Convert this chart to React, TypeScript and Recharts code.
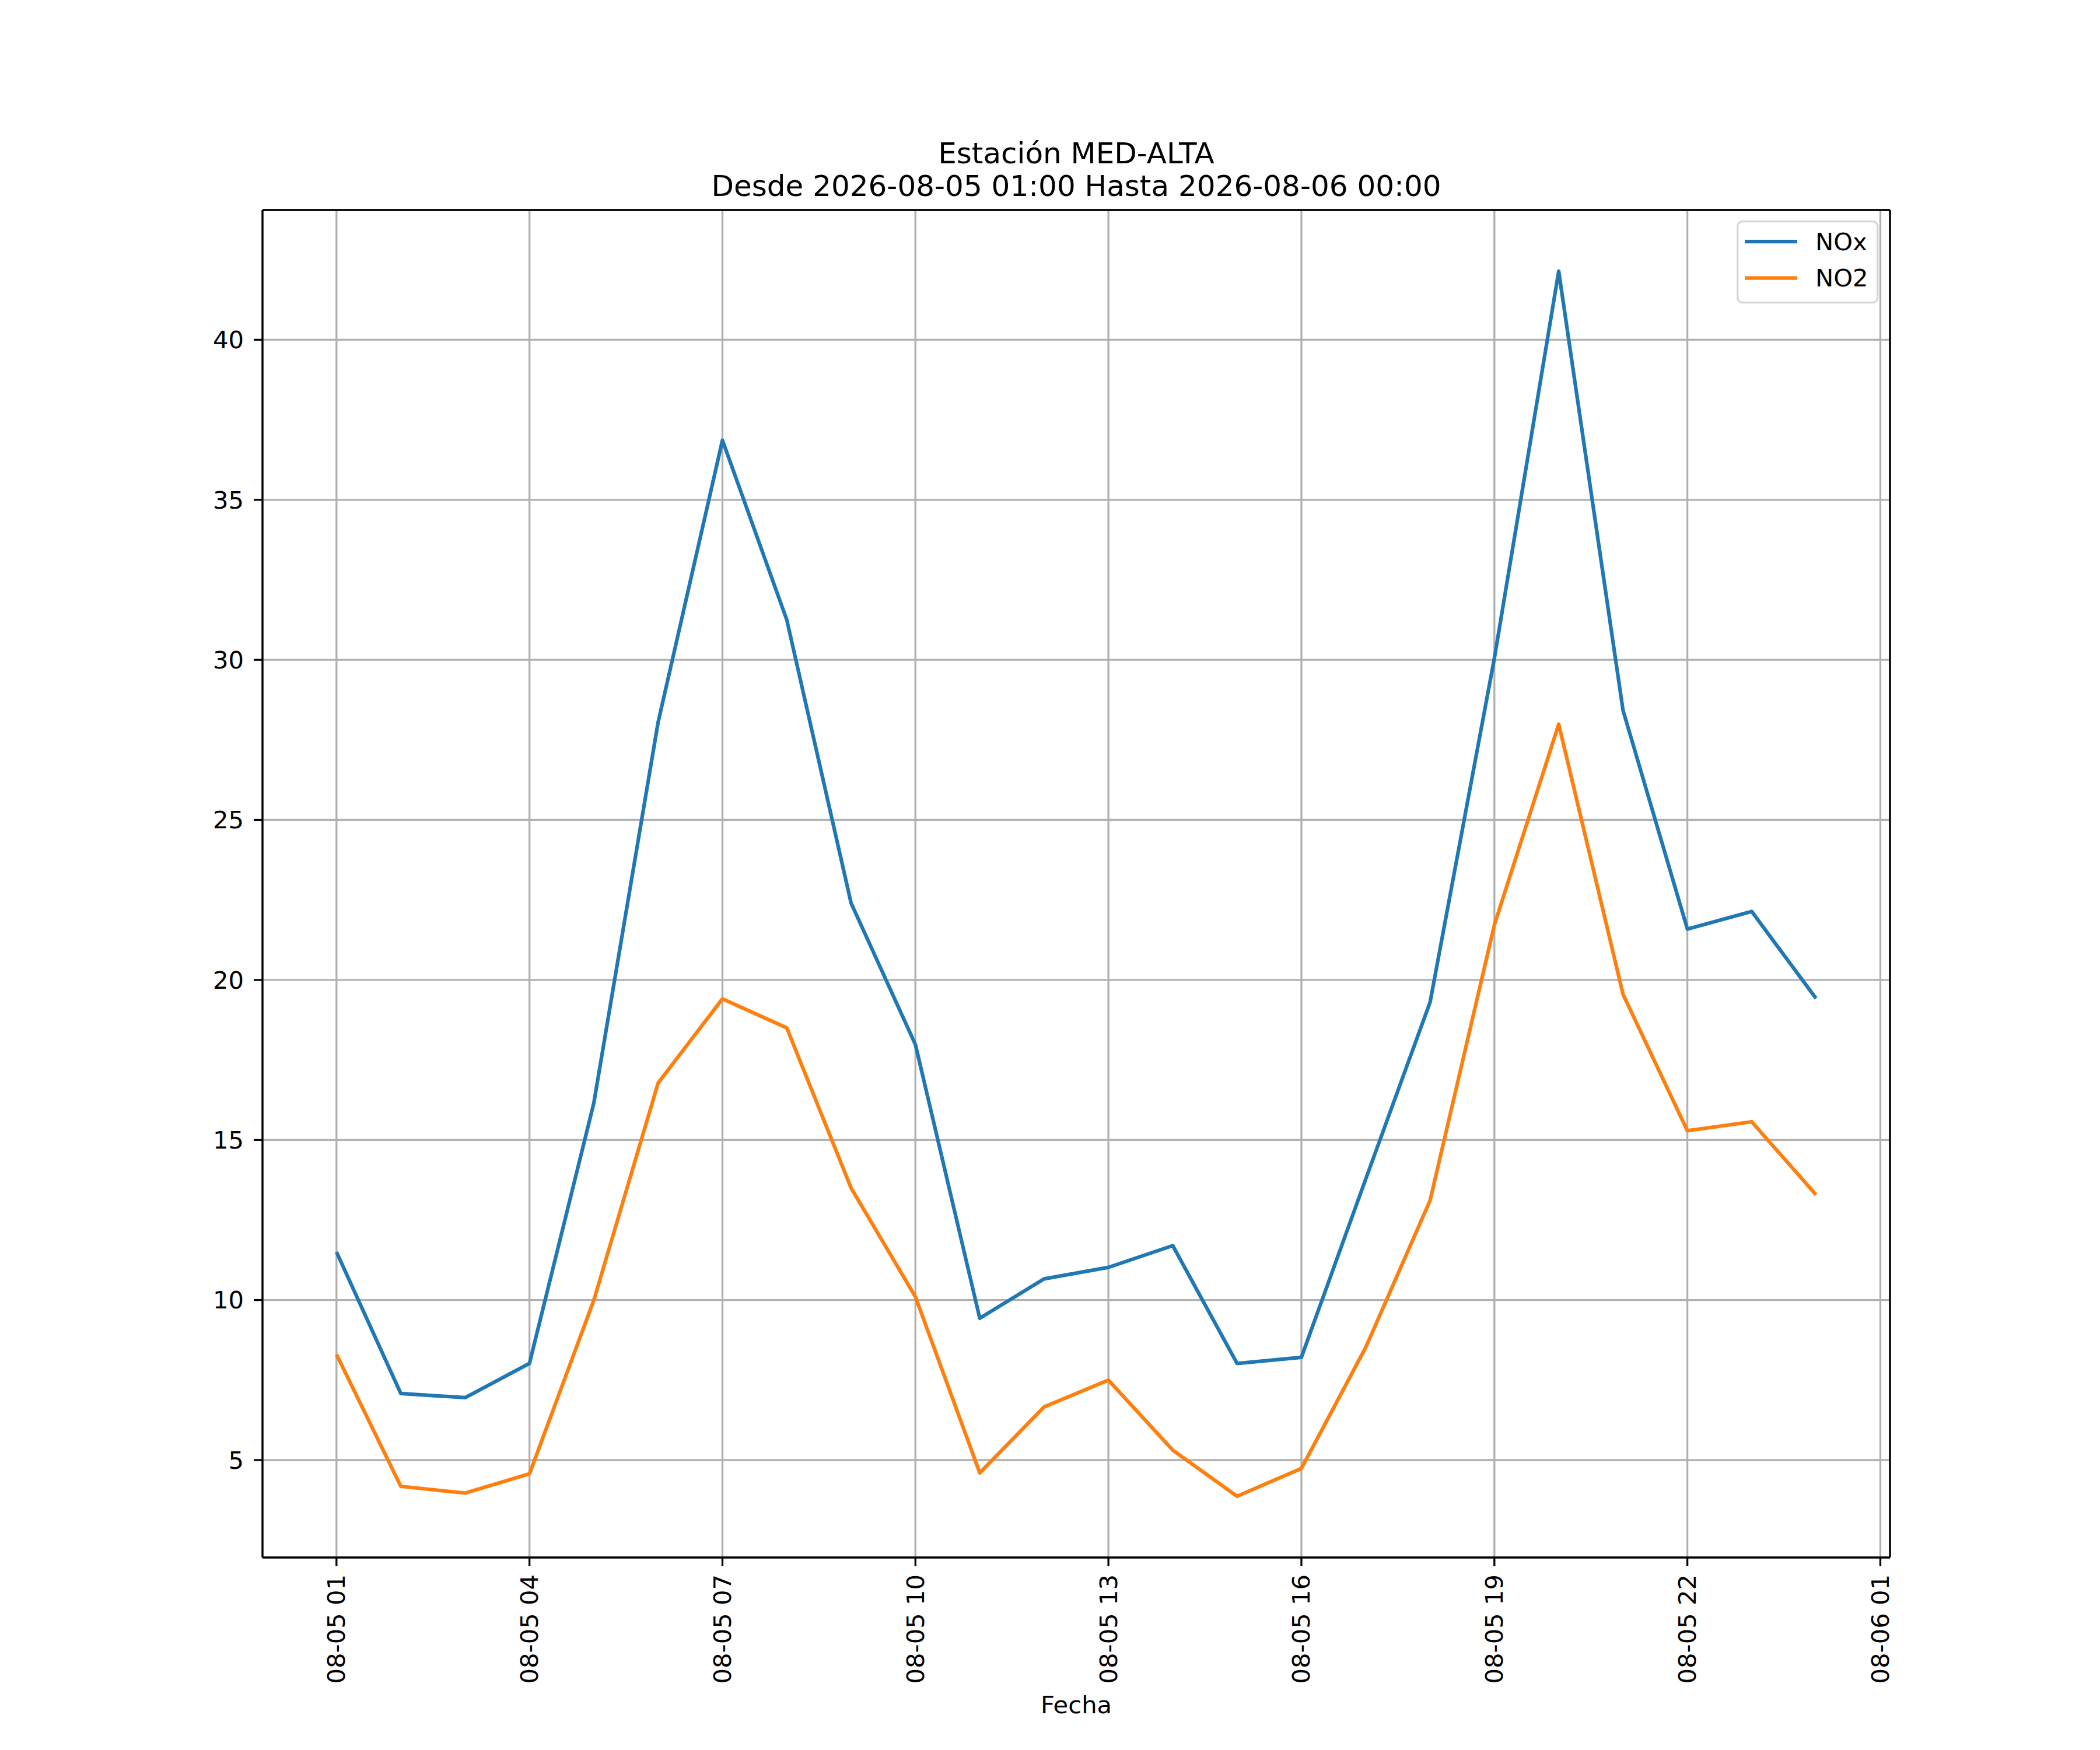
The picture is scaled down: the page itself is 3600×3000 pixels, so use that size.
import React from "react";
import { CartesianGrid, Legend, Line, LineChart, ReferenceLine, XAxis, YAxis } from "recharts";

// hourly readings, station MED-ALTA
const timestamps = [
  "2026-08-05T01:00", "2026-08-05T02:00", "2026-08-05T03:00", "2026-08-05T04:00",
  "2026-08-05T05:00", "2026-08-05T06:00", "2026-08-05T07:00", "2026-08-05T08:00",
  "2026-08-05T09:00", "2026-08-05T10:00", "2026-08-05T11:00", "2026-08-05T12:00",
  "2026-08-05T13:00", "2026-08-05T14:00", "2026-08-05T15:00", "2026-08-05T16:00",
  "2026-08-05T17:00", "2026-08-05T18:00", "2026-08-05T19:00", "2026-08-05T20:00",
  "2026-08-05T21:00", "2026-08-05T22:00", "2026-08-05T23:00", "2026-08-06T00:00",
];
const nox = [
  11.5, 7.08, 6.95, 8.02, 16.15, 28.05, 36.86, 31.25, 22.4, 17.98, 9.43, 10.66,
  11.02, 11.7, 8.02, 8.21, 13.78, 19.3, 30.05, 42.14, 28.42, 21.59, 22.14, 19.42,
];
const no2 = [
  8.3, 4.18, 3.97, 4.57, 9.99, 16.78, 19.41, 18.5, 13.5, 10.1, 4.6, 6.66,
  7.5, 5.31, 3.87, 4.74, 8.52, 13.11, 21.72, 27.99, 19.55, 15.29, 15.57, 13.29,
];
const seriesNames = ["NOx", "NO2"];
const xTickHours = [0, 3, 6, 9, 12, 15, 18, 21, 24];
const xTickLabels = [
  "08-05 01", "08-05 04", "08-05 07", "08-05 10", "08-05 13",
  "08-05 16", "08-05 19", "08-05 22", "08-06 01",
];
const yTicks = [5, 10, 15, 20, 25, 30, 35, 40];

const FONT = "'DejaVu Sans', sans-serif";
const BLUE = "#1f77b4";
const ORANGE = "#ff7f0e";

const t0 = Date.parse(timestamps[0]);
const data = timestamps.map((ts, i) => ({
  x: (Date.parse(ts) - t0) / 3600000,
  nox: nox[i],
  no2: no2[i],
}));

// matplotlib style 5% autoscale margins
const xs = data.map((d) => d.x);
const xMin = Math.min(...xs);
const xMax = Math.max(...xs);
const xPad = (xMax - xMin) * 0.05;
const allY = [...nox, ...no2];
const yMin = Math.min(...allY);
const yMax = Math.max(...allY);
const yPad = (yMax - yMin) * 0.05;
const xDomain = [xMin - xPad, xMax + xPad];
const yDomain = [yMin - yPad, yMax + yPad];

function XTick(props: any) {
  const { x, y, payload } = props;
  const idx = xTickHours.indexOf(payload.value);
  const label = idx >= 0 ? xTickLabels[idx] : "";
  return (
    <text
      x={x}
      y={y}
      transform={`rotate(-90, ${x}, ${y})`}
      textAnchor="end"
      dominantBaseline="central"
      fontFamily={FONT}
      fontSize={41.7}
      fill="#000"
    >
      {label}
    </text>
  );
}

function LegendBox(props: any) {
  const items = [...(props.payload || [])].sort(
    (a: any, b: any) => seriesNames.indexOf(a.value) - seriesNames.indexOf(b.value)
  );
  return (
    <svg width={244} height={143} style={{ display: "block" }}>
      <rect
        x={1.7}
        y={1.7}
        width={240}
        height={139}
        rx={8}
        ry={8}
        fill="rgba(255,255,255,0.8)"
        stroke="#d6d6d6"
        strokeWidth={3.33}
      />
      {items.map((it: any, i: number) => {
        const ly = 36 + i * 62.7;
        return (
          <g key={it.value}>
            <line x1={14} x2={104} y1={ly} y2={ly} stroke={it.color} strokeWidth={6.25} />
            <text x={135} y={ly + 14.5} fontFamily={FONT} fontSize={41.7} fill="#000">
              {it.value}
            </text>
          </g>
        );
      })}
    </svg>
  );
}

export default function App() {
  const axisLine = { stroke: "#000", strokeWidth: 3.33 };
  return (
    <div style={{ width: 3600, height: 3000, background: "#fff" }}>
      <style>{"body{margin:0;background:#fff}"}</style>
      <LineChart
        width={3600}
        height={3000}
        data={data}
        margin={{ top: 360, right: 360, bottom: 80, left: 300 }}
        style={{ fontFamily: FONT }}
      >
        <CartesianGrid stroke="#b0b0b0" strokeWidth={3.33} />
        <XAxis
          dataKey="x"
          type="number"
          domain={xDomain}
          allowDataOverflow
          ticks={xTickHours}
          interval={0}
          height={250}
          tickSize={15}
          tickMargin={14}
          tick={<XTick />}
          axisLine={axisLine}
          tickLine={axisLine}
        />
        <YAxis
          type="number"
          domain={yDomain}
          allowDataOverflow
          ticks={yTicks}
          interval={0}
          width={150}
          tickSize={15}
          tickMargin={17}
          tick={{ fill: "#000", fontSize: 41.7, fontFamily: FONT }}
          axisLine={axisLine}
          tickLine={axisLine}
        />
        <Legend
          layout="horizontal"
          verticalAlign="middle"
          align="center"
          width={244}
          height={143}
          wrapperStyle={{ left: 2977, top: 378 }}
          content={<LegendBox />}
        />
        <Line
          type="linear"
          dataKey="nox"
          name="NOx"
          stroke={BLUE}
          strokeWidth={6.25}
          strokeLinejoin="round"
          dot={false}
          activeDot={false}
          isAnimationActive={false}
        />
        <Line
          type="linear"
          dataKey="no2"
          name="NO2"
          stroke={ORANGE}
          strokeWidth={6.25}
          strokeLinejoin="round"
          dot={false}
          activeDot={false}
          isAnimationActive={false}
        />
        {/* top and right spines */}
        <ReferenceLine y={yDomain[1]} stroke="#000" strokeWidth={3.33} ifOverflow="visible" />
        <ReferenceLine x={xDomain[1]} stroke="#000" strokeWidth={3.33} ifOverflow="visible" />
        <text x={1845} y={280} textAnchor="middle" fontFamily={FONT} fontSize={50} fill="#000">
          Estación MED-ALTA
        </text>
        <text x={1845} y={336} textAnchor="middle" fontFamily={FONT} fontSize={50} fill="#000">
          Desde 2026-08-05 01:00 Hasta 2026-08-06 00:00
        </text>
        <text x={1845} y={2937} textAnchor="middle" fontFamily={FONT} fontSize={41.7} fill="#000">
          Fecha
        </text>
      </LineChart>
    </div>
  );
}
